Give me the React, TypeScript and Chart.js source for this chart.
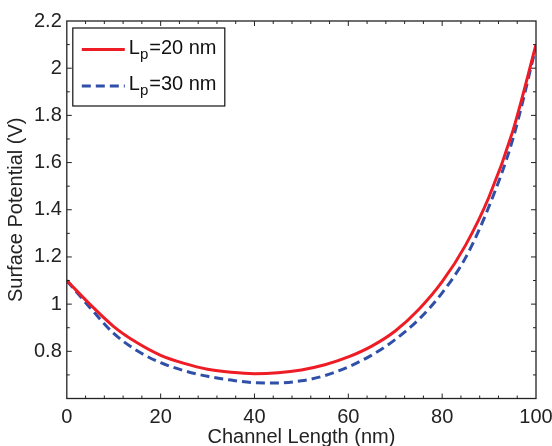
import React, { useEffect, useRef } from 'react';
import { Chart, registerables } from 'chart.js';

Chart.register(...registerables);

// ---- data ----
const channelLength = [0, 5, 10, 15, 20, 25, 30, 35, 40, 45, 50, 55, 60, 65, 70, 75, 80, 85, 90, 95, 100];
const potentialLp20 = [1.100, 0.998, 0.905, 0.836, 0.783, 0.749, 0.724, 0.711, 0.705, 0.709, 0.721, 0.743, 0.776, 0.822, 0.886, 0.977, 1.095, 1.250, 1.455, 1.730, 2.100];
const potentialLp30 = [1.100, 0.984, 0.876, 0.802, 0.752, 0.718, 0.694, 0.678, 0.667, 0.666, 0.675, 0.697, 0.734, 0.784, 0.850, 0.935, 1.048, 1.197, 1.415, 1.695, 2.090];

const seriesNames = ['Lp=20 nm', 'Lp=30 nm'];
const legendBase = ['L', 'L'];
const legendSub = ['p', 'p'];
const legendRest = ['=20 nm', '=30 nm'];

const xTickValues = [0, 20, 40, 60, 80, 100];
const xTickLabels = ['0', '20', '40', '60', '80', '100'];
const yTickValues = [0.8, 1.0, 1.2, 1.4, 1.6, 1.8, 2.0, 2.2];
const yTickLabels = ['0.8', '1', '1.2', '1.4', '1.6', '1.8', '2', '2.2'];

const xTitle = 'Channel Length (nm)';
const yTitle = 'Surface Potential (V)';

const FONT = "'Liberation Sans', Arial, Helvetica, sans-serif";
const AXIS_COLOR = '#222222';
const RED = '#ee1c25';
const BLUE = '#2f4fa8';

const matlabFrame = {
  id: 'matlabFrame',
  afterDraw(chart: any) {
    const { ctx, chartArea: a, scales } = chart;
    const x = scales.x;
    const y = scales.y;
    ctx.save();
    ctx.strokeStyle = AXIS_COLOR;
    ctx.lineWidth = 1;
    // minor + major ticks, pointing inward, on all four sides
    const major = 5;
    const minor = 3;
    for (let v = 0; v <= 100.0001; v += 4) {
      const px = x.getPixelForValue(v);
      if (px <= a.left + 0.5 || px >= a.right - 0.5) continue;
      const len = xTickValues.some((t) => Math.abs(t - v) < 1e-6) ? major : minor;
      ctx.beginPath();
      ctx.moveTo(px, a.bottom);
      ctx.lineTo(px, a.bottom - len);
      ctx.moveTo(px, a.top);
      ctx.lineTo(px, a.top + len);
      ctx.stroke();
    }
    for (let i = 6; i <= 22; i++) {
      const v = i / 10;
      const py = y.getPixelForValue(v);
      if (py >= a.bottom - 0.5 || py <= a.top + 0.5) continue;
      const len = yTickValues.some((t) => Math.abs(t - v) < 1e-6) ? major : minor;
      ctx.beginPath();
      ctx.moveTo(a.left, py);
      ctx.lineTo(a.left + len, py);
      ctx.moveTo(a.right, py);
      ctx.lineTo(a.right - len, py);
      ctx.stroke();
    }
    // box
    ctx.lineWidth = 1.3;
    ctx.strokeRect(a.left, a.top, a.right - a.left, a.bottom - a.top);

    // legend
    const bx = a.left + 6;
    const by = a.top + 7;
    const bw = 152;
    const bh = 78;
    ctx.fillStyle = '#ffffff';
    ctx.fillRect(bx, by, bw, bh);
    ctx.lineWidth = 1.2;
    ctx.strokeStyle = '#111111';
    ctx.strokeRect(bx, by, bw, bh);
    chart.data.datasets.forEach((ds: any, i: number) => {
      const baseY = by + 25.5 + i * 36.5;
      const lineY = baseY - 4;
      ctx.save();
      ctx.strokeStyle = ds.borderColor;
      ctx.lineWidth = ds.borderWidth;
      ctx.setLineDash(ds.borderDash || []);
      ctx.beginPath();
      ctx.moveTo(bx + 9, lineY);
      ctx.lineTo(bx + 52, lineY);
      ctx.stroke();
      ctx.restore();
      ctx.fillStyle = '#111111';
      ctx.textBaseline = 'alphabetic';
      ctx.textAlign = 'left';
      let tx = bx + 56;
      ctx.font = `20px ${FONT}`;
      ctx.fillText(legendBase[i], tx, baseY);
      tx += ctx.measureText(legendBase[i]).width;
      ctx.font = `15px ${FONT}`;
      ctx.fillText(legendSub[i], tx, baseY + 5);
      tx += ctx.measureText(legendSub[i]).width + 1;
      ctx.font = `20px ${FONT}`;
      ctx.fillText(legendRest[i], tx, baseY);
    });
    ctx.restore();
  },
};

export default function App() {
  const canvasRef = useRef<HTMLCanvasElement>(null);

  useEffect(() => {
    document.body.style.margin = '0';
    const canvas = canvasRef.current;
    if (!canvas) return;
    const chart = new Chart(canvas, {
      type: 'line',
      data: {
        datasets: [
          {
            label: seriesNames[0],
            data: channelLength.map((x, i) => ({ x, y: potentialLp20[i] })),
            borderColor: RED,
            borderWidth: 3,
            pointRadius: 0,
            cubicInterpolationMode: 'monotone',
            fill: false,
          },
          {
            label: seriesNames[1],
            data: channelLength.map((x, i) => ({ x, y: potentialLp30[i] })),
            borderColor: BLUE,
            borderWidth: 3,
            borderDash: [9, 5],
            pointRadius: 0,
            cubicInterpolationMode: 'monotone',
            fill: false,
          },
        ],
      },
      options: {
        responsive: false,
        animation: false,
        devicePixelRatio: 1,
        layout: { padding: { left: 0, right: 0, top: 21, bottom: 0 } },
        plugins: {
          legend: { display: false },
          tooltip: { enabled: false },
        },
        scales: {
          x: {
            type: 'linear',
            min: 0,
            max: 100,
            grid: { display: false, drawTicks: false },
            border: { display: false },
            afterBuildTicks: (scale: any) => {
              scale.ticks = xTickValues.map((v) => ({ value: v }));
            },
            afterFit: (scale: any) => {
              scale.paddingRight = 16;
            },
            ticks: {
              padding: 6.5,
              color: AXIS_COLOR,
              maxRotation: 0,
              autoSkip: false,
              font: { family: FONT, size: 20, lineHeight: 1.2 },
              callback: (_v: any, i: number) => xTickLabels[i],
            },
            title: {
              display: true,
              text: xTitle,
              color: AXIS_COLOR,
              font: { family: FONT, size: 20, lineHeight: 1.0 },
              padding: { top: -8.5, bottom: -1 },
            },
          },
          y: {
            type: 'linear',
            min: 0.6,
            max: 2.2,
            grid: { display: false, drawTicks: false },
            border: { display: false },
            afterBuildTicks: (scale: any) => {
              scale.ticks = yTickValues.map((v) => ({ value: v }));
            },
            ticks: {
              padding: 5,
              color: AXIS_COLOR,
              autoSkip: false,
              font: { family: FONT, size: 20, lineHeight: 1.2 },
              callback: (_v: any, i: number) => yTickLabels[i],
            },
            title: {
              display: true,
              text: yTitle,
              color: AXIS_COLOR,
              font: { family: FONT, size: 20, lineHeight: 1.0 },
              padding: { top: 6, bottom: 3 },
            },
          },
        },
      },
      plugins: [matlabFrame],
    } as any);
    return () => chart.destroy();
  }, []);

  return (
    <div style={{ width: 552, height: 446, background: '#ffffff' }}>
      <canvas ref={canvasRef} width={552} height={446} style={{ display: 'block' }} />
    </div>
  );
}
